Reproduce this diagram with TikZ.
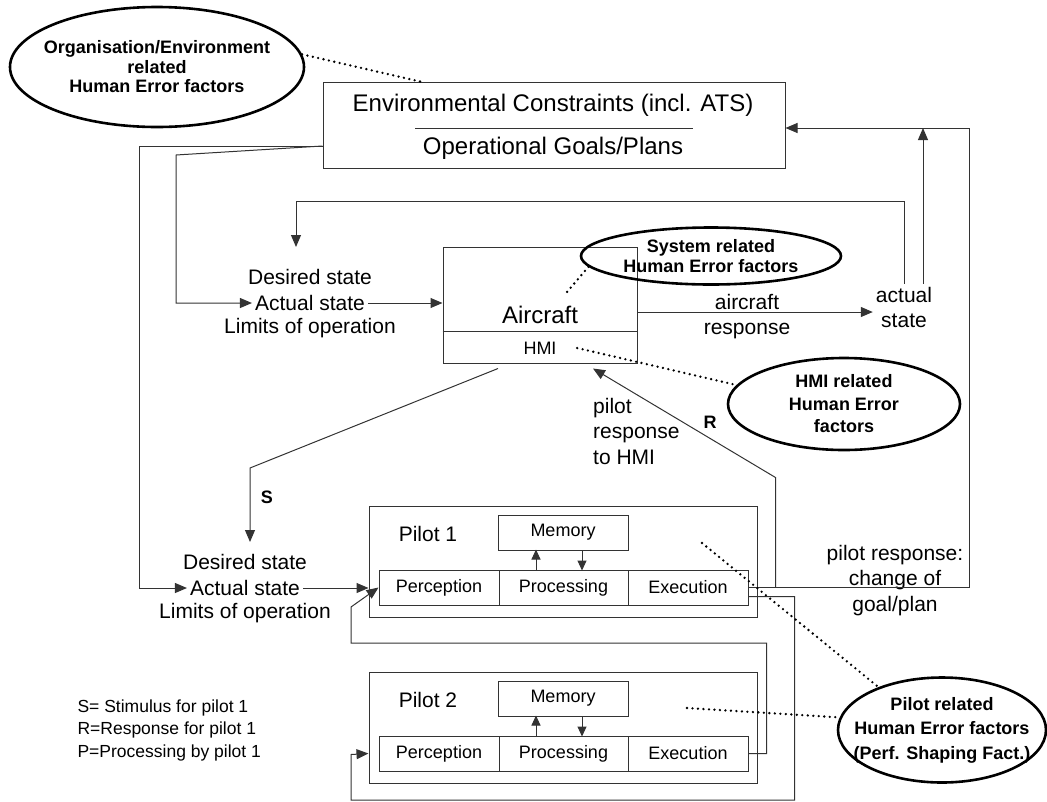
\documentclass[tikz,border=0pt]{standalone}
\usepackage{fontspec}
\setmainfont{Liberation Sans}
\usetikzlibrary{arrows.meta,shapes.geometric}

\tikzset{
  box/.style={draw=black!80, line width=1pt, inner sep=0pt},
  conn/.style={draw=black!80, line width=1pt},
  arr/.style={draw=black!80, line width=1pt, -{Triangle[length=12pt,width=10pt]}},
  smallarr/.style={draw=black!80, line width=1pt, -{Triangle[length=10pt,width=9pt]}},
  errell/.style={draw, ellipse, line width=2.6pt, inner sep=0pt},
  errtxt/.style={align=center, inner sep=0pt, font=\fontsize{18}{#1}\selectfont\bfseries},
  errtxt/.default=21,
  dots/.style={line width=2.6pt, dash pattern=on 0pt off 5.5pt, line cap=round},
  lbl/.style={font=\fontsize{21}{25.5}\selectfont, inner sep=3pt},
  biglbl/.style={font=\fontsize{24}{28}\selectfont, inner sep=2pt},
  boxlbl/.style={font=\fontsize{18}{21}\selectfont, inner sep=3pt},
}

\begin{document}
\begin{tikzpicture}[x=1pt,y=-1pt]
\useasboundingbox (0,0) rectangle (1047,801);

% environment
\node[box, minimum width=462pt, minimum height=86pt] (env) at (554,125) {};
\node[biglbl] (envcon) at (553,105) {Environmental Constraints (incl. ATS)};
\node[biglbl] (envgoal) at (553,148) {Operational Goals/Plans};
\draw[conn] (415,128) -- (693,128);

% aircraft
\node[box, minimum width=194pt, minimum height=116pt] (ac) at (540,305) {};
\draw[conn] ([yshift=-26pt]ac.west) -- ([yshift=-26pt]ac.east);
\node[biglbl] (actxt) at (540,315) {Aircraft};
\node[boxlbl] (hmi) at (540,348) {HMI};

% pilots
\foreach \i/\dy in {1/0,2/166} {
  \node[box, minimum width=388pt, minimum height=111pt] (p\i) at (563,561.5+\dy) {};
  \node[lbl] (pl\i) at (428,534+\dy) {Pilot \i};
  \node[box, boxlbl, minimum width=130pt, minimum height=35pt] (mem\i) at (563,532.5+\dy) {Memory};
  \node[box, boxlbl, minimum width=120pt, minimum height=35pt] (pe\i) at (439,587.5+\dy) {Perception};
  \node[box, boxlbl, minimum width=129pt, minimum height=35pt] (pr\i) at (563.5,587.5+\dy) {Processing};
  \node[box, boxlbl, minimum width=120pt, minimum height=35pt] (ex\i) at (688,587.5+\dy) {Execution};
  \draw[smallarr] ([xshift=-27.5pt]pr\i.north) -- ++(0,-20);
  \draw[smallarr] ([xshift=19pt]mem\i.south) -- ++(0,20);
}

% state labels
\node[lbl] (updes) at (310,277) {Desired state};
\node[lbl] (upact) at (310,303) {Actual state};
\node[lbl] (uplim) at (310,328) {Limits of operation};
\node[lbl] (lodes) at (245,562) {Desired state};
\node[lbl] (loact) at (245,588) {Actual state};
\node[lbl] (lolim) at (245,613) {Limits of operation};

% other labels
\node[lbl, align=center] (rtact) at (904,307.5) {actual\\state};
\node[lbl, align=center] (acresp) at (747,316.5) {aircraft\\response};
\node[lbl, align=left, anchor=west] (pilresp) at (590,431) {pilot\\response\\to HMI};
\node[lbl, align=center] (chg) at (895,580.5) {pilot response:\\change of\\goal/plan};
\node[font=\fontsize{18}{21}\selectfont\bfseries] (slbl) at (267,497) {S};
\node[font=\fontsize{18}{21}\selectfont\bfseries] (rlbl) at (710,422) {R};
\node[font=\fontsize{17.5}{22.5}\selectfont, align=left, anchor=west] (legend) at (74,730)
  {S= Stimulus for pilot 1\\R=Response for pilot 1\\P=Processing by pilot 1};

% error factor ellipses
\node[errell, minimum width=294pt, minimum height=120pt] (orgell) at (157,67) {};
\node[errtxt=19.5] (orgtxt) at (orgell) {Organisation/Environment\\related\\Human Error factors};
\node[errell, minimum width=260pt, minimum height=57pt] (sysell) at (711,256) {};
\node[errtxt=20] (systxt) at (sysell) {System related\\Human Error factors};
\node[errell, minimum width=232pt, minimum height=92pt] (hmiell) at (844,404) {};
\node[errtxt=22.5] (hmitxt) at (hmiell) {HMI related\\Human Error\\factors};
\node[errell, minimum width=208pt, minimum height=105pt] (pilell) at (942,730) {};
\node[errtxt=24.5] (piltxt) at (pilell) {Pilot related\\Human Error factors\\(Perf. Shaping Fact.)};

% connectors
\coordinate (envl) at ([yshift=-21pt]env.west);
\coordinate (envr) at ([yshift=-3pt]env.east);
\draw[arr] (envl) -- (139,146) |- (loact.west);
\draw[arr] (envl) -- (176,155) |- (upact.west);
\draw[arr] (upact.east) -- (ac.west |- upact.east);
\draw[arr] (loact.east) -- (p1.west |- loact.east);

\coordinate (fbtop) at (296,201);
\coordinate (updtip) at (296,247);
\draw[arr] (rtact.north) |- (fbtop) -- (updtip);
\coordinate (rtup) at ([xshift=19pt]rtact.north);
\draw[arr] (rtup) -- (rtup |- envr);

\coordinate (acr) at ([yshift=-7pt]ac.east);
\draw[arr] (acr) -- (acr -| rtact.west);

\draw[arr] (ex1.east) -- (969,587.5) |- (envr);

\coordinate (rbr) at ([xshift=27pt]ex1.east);
\coordinate (acrtip) at ([shift={(53pt,-5pt)}]ac.south);
\draw[arr] (rbr) -- ++(0,-110) -- (acrtip);

\coordinate (acs) at ([shift={(-42pt,-5pt)}]ac.south);
\coordinate (lotip) at (250,542);
\draw[arr] (acs) -- (250,468) -- (lotip);

\draw[arr] ([yshift=-9pt]ex1.east) -- ++(46,0) -- ++(0,203.5) -| (351,754.5) -- (p2.west |- pe2.west);
\draw[arr] (ex2.east) -- ++(18,0) -- ++(0,-110.5) -| (351,607) -- (pe1.west);

% dotted links
\draw[dots] (orgell.5) -- ([xshift=-134pt]env.north);
\coordinate (acin) at ([shift={(27pt,13pt)}]ac.center);
\draw[dots] (sysell.185) -- (acin);
\coordinate (hmiout) at ([xshift=17.5pt]hmi.east);
\draw[dots] (hmiout) -- (hmiell.170);
\coordinate (p1in) at ([shift={(139pt,18.5pt)}]p1.center);
\draw[dots] (p1in) -- (pilell.146);
\coordinate (p2in) at ([shift={(124pt,19.5pt)}]p2.center);
\draw[dots] (p2in) -- (pilell.173);
\end{tikzpicture}
\end{document}
